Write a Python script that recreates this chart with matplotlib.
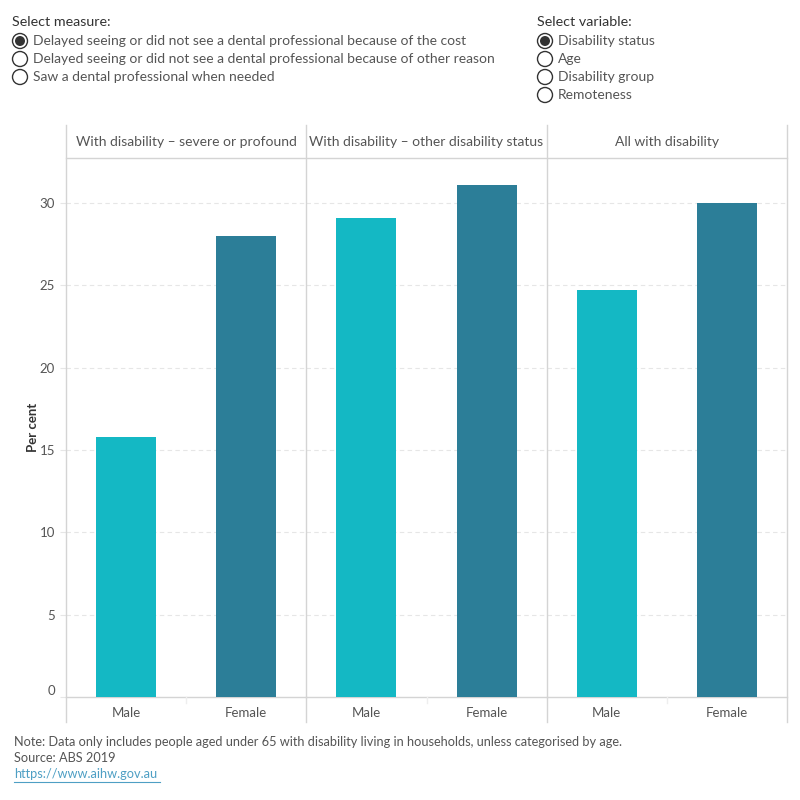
import matplotlib
matplotlib.use("Agg")
import matplotlib.pyplot as plt
from matplotlib.patches import Circle
from matplotlib.lines import Line2D

plt.rcParams['font.family'] = ['Lato', 'DejaVu Sans']

panels = ["With disability \u2013 severe or profound",
          "With disability \u2013 other disability status",
          "All with disability"]
sexes = ["Male", "Female"]
male_vals = [15.8, 29.1, 24.7]
female_vals = [28.0, 31.1, 30.0]
yticks = [0, 5, 10, 15, 20, 25, 30]

measure_opts = ["Delayed seeing or did not see a dental professional because of the cost",
                "Delayed seeing or did not see a dental professional because of other reason",
                "Saw a dental professional when needed"]
variable_opts = ["Disability status", "Age", "Disability group", "Remoteness"]

c_male = "#14B8C4"
c_female = "#2C7E98"
txt = "#555555"
grid_c = "#e6e6e6"
border = "#d4d4d4"

W = H = 800
fig = plt.figure(figsize=(8, 8), dpi=100)

def fx(px): return px / W
def fy(py): return 1 - py / H

left, right, top, bottom = 66, 787, 158, 697
pw = (right - left) / 3
ymax = (bottom - top) / ((bottom - 203) / 30)

for i, name in enumerate(panels):
    x0 = left + i * pw
    ax = fig.add_axes([fx(x0), fy(bottom), fx(pw), fy(top) - fy(bottom)])
    ax.bar([0, 1], [male_vals[i], female_vals[i]], width=0.5,
           color=[c_male, c_female], zorder=3)
    ax.set_xlim(-0.5, 1.5)
    ax.set_ylim(0, ymax)
    ax.set_yticks(yticks)
    for y in yticks[1:]:
        ax.axhline(y, color=grid_c, lw=0.8, ls=(0, (4, 3)), zorder=1)
    ax.set_xticks([0, 1])
    ax.set_xticklabels(sexes, fontsize=9.5, color=txt)
    ax.tick_params(axis='x', length=0, pad=7)
    if i == 0:
        ax.set_yticklabels([str(v) for v in yticks], fontsize=9.5, color=txt)
        ax.get_yticklabels()[0].set_verticalalignment('bottom')
        ax.tick_params(axis='y', length=4, color=grid_c, pad=4)
        ax.set_ylabel("Per cent", fontsize=9.5, color="#333333", fontweight='bold', labelpad=0)
    else:
        ax.set_yticks(yticks)
        ax.tick_params(axis='y', length=0, labelleft=False)
    for s in ['top', 'right', 'left']:
        ax.spines[s].set_visible(False)
    ax.spines['bottom'].set_color(border)
    ax.spines['bottom'].set_linewidth(1)
    ax.set_facecolor('none')
    fig.text(fx(x0 + pw / 2), fy(142), name, ha='center', va='center',
             fontsize=10, color=txt)

for i in range(4):
    xl = left + i * pw
    fig.add_artist(Line2D([fx(xl), fx(xl)], [fy(125), fy(722)], color=border, lw=1))
fig.add_artist(Line2D([fx(left), fx(right)], [fy(158), fy(158)], color=border, lw=1))
for i in range(3):
    xm = left + i * pw + pw / 2
    fig.add_artist(Line2D([fx(xm), fx(xm)], [fy(697), fy(703)], color="#eeeeee", lw=1))

def radio(px, py, label, on):
    fig.add_artist(Circle((fx(px), fy(py)), 7.5 / W, transform=fig.transFigure,
                          facecolor='white', edgecolor='#333333', lw=1))
    if on:
        fig.add_artist(Circle((fx(px), fy(py)), 5 / W, transform=fig.transFigure,
                              facecolor='#333333', edgecolor='none'))
    fig.text(fx(px + 13), fy(py), label, ha='left', va='center', fontsize=10, color=txt)

fig.text(fx(12), fy(22), "Select measure:", ha='left', va='center', fontsize=10.3, color='#333333')
for k, lab in enumerate(measure_opts):
    radio(20, 41 + k * 18, lab, k == 0)
fig.text(fx(537), fy(22), "Select variable:", ha='left', va='center', fontsize=10.3, color='#333333')
for k, lab in enumerate(variable_opts):
    radio(545, 41 + k * 18, lab, k == 0)

fig.text(fx(14), fy(742), "Note: Data only includes people aged under 65 with disability living in households, unless categorised by age.",
         ha='left', va='center', fontsize=9.2, color=txt)
fig.text(fx(14), fy(758), "Source: ABS 2019", ha='left', va='center', fontsize=9.2, color=txt)
fig.text(fx(14), fy(774), "https://www.aihw.gov.au", ha='left', va='center', fontsize=9.2, color="#4e9fc4")
fig.add_artist(Line2D([fx(14), fx(160)], [fy(782), fy(782)], color="#4e9fc4", lw=0.8))

fig.savefig("out.png", dpi=100, facecolor='white')
